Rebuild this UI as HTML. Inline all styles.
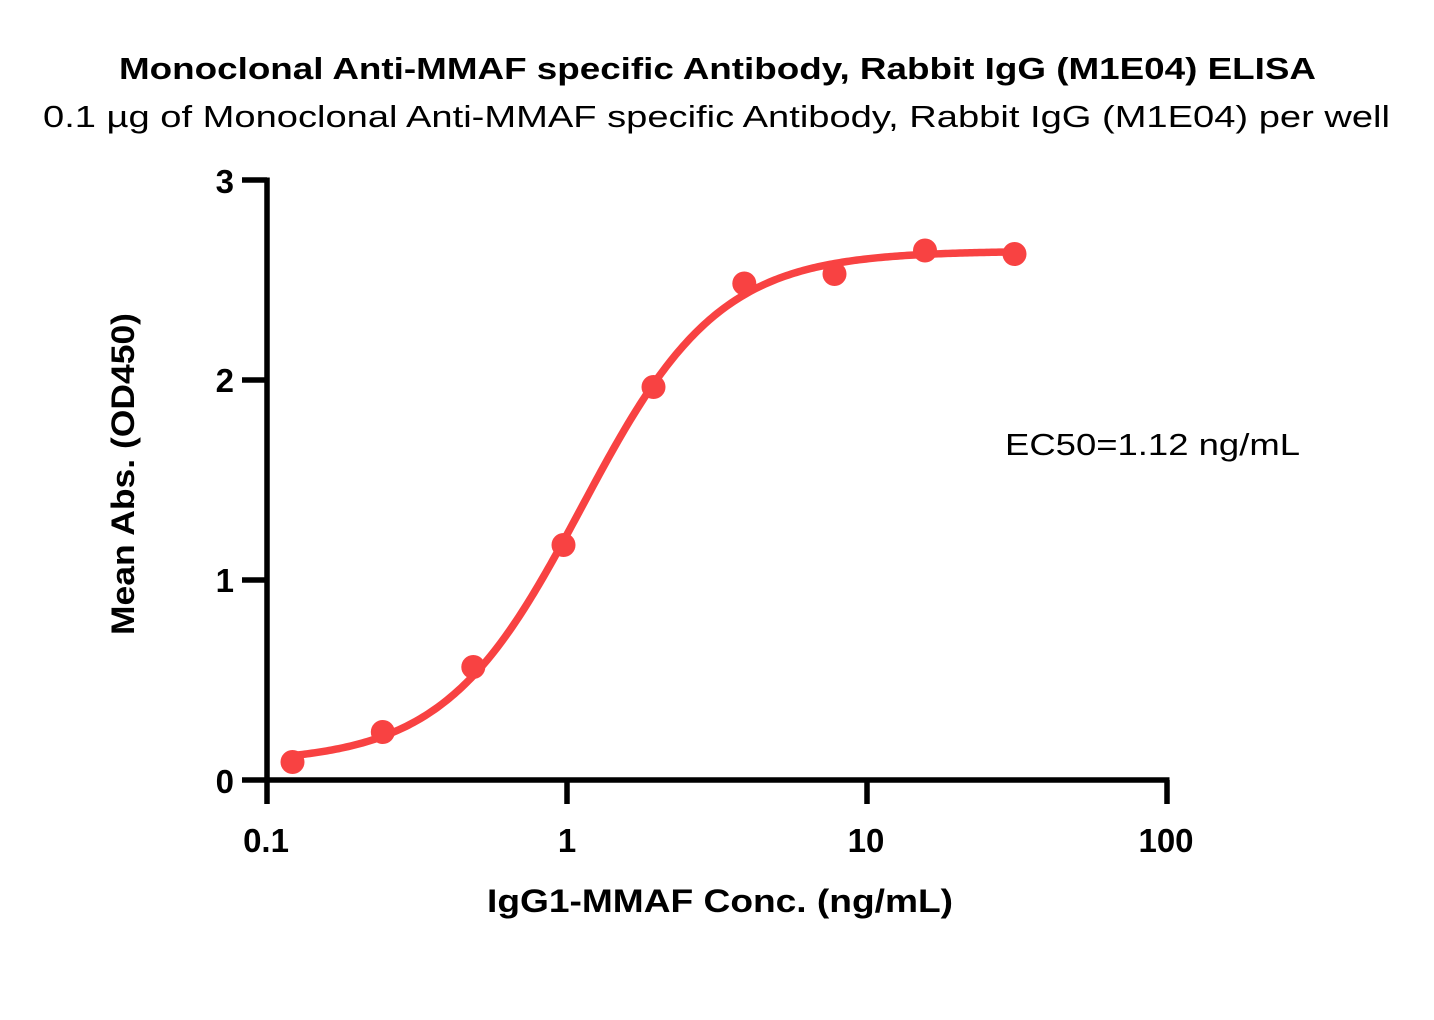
<!DOCTYPE html>
<html>
<head>
<meta charset="utf-8">
<style>
  html, body { margin: 0; padding: 0; background: #ffffff; }
  svg { display: block; }
  text { font-family: "Liberation Sans", "DejaVu Sans", sans-serif; fill: #000; }
</style>
</head>
<body>
<svg width="1434" height="1020" viewBox="0 0 1434 1020" xmlns="http://www.w3.org/2000/svg">
  <rect x="0" y="0" width="1434" height="1020" fill="#ffffff"/>

  <!-- Titles -->
  <text x="119" y="79" font-size="31" font-weight="bold" textLength="1197" lengthAdjust="spacingAndGlyphs">Monoclonal Anti-MMAF specific Antibody, Rabbit IgG (M1E04) ELISA</text>
  <text x="43" y="127" font-size="31" textLength="1347" lengthAdjust="spacingAndGlyphs">0.1 µg of Monoclonal Anti-MMAF specific Antibody, Rabbit IgG (M1E04) per well</text>

  <!-- Axes -->
  <g stroke="#000" stroke-width="5.5" fill="none" stroke-linecap="butt">
    <line x1="267" y1="177.5" x2="267" y2="782.5"/>
    <line x1="242" y1="780" x2="1169.5" y2="780"/>
    <line x1="242" y1="180" x2="267" y2="180"/>
    <line x1="242" y1="380" x2="267" y2="380"/>
    <line x1="242" y1="580" x2="267" y2="580"/>
    <line x1="267" y1="780" x2="267" y2="804"/>
    <line x1="567" y1="780" x2="567" y2="804"/>
    <line x1="867" y1="780" x2="867" y2="804"/>
    <line x1="1167" y1="780" x2="1167" y2="804"/>
  </g>

  <!-- Y tick labels -->
  <g font-size="33" font-weight="bold" text-anchor="end">
    <text x="234" y="193">3</text>
    <text x="234" y="392">2</text>
    <text x="234" y="592">1</text>
    <text x="234" y="793">0</text>
  </g>

  <!-- X tick labels -->
  <g font-size="33" font-weight="bold" text-anchor="middle">
    <text x="266" y="852">0.1</text>
    <text x="567" y="852">1</text>
    <text x="866" y="852">10</text>
    <text x="1166" y="852">100</text>
  </g>

  <!-- Axis titles -->
  <text x="487" y="912" font-size="32" font-weight="bold" textLength="466" lengthAdjust="spacingAndGlyphs">IgG1-MMAF Conc. (ng/mL)</text>
  <text transform="translate(134,635) rotate(-90)" x="0" y="0" font-size="32" font-weight="bold" textLength="322" lengthAdjust="spacingAndGlyphs">Mean Abs. (OD450)</text>

  <!-- EC50 annotation -->
  <text x="1005" y="455" font-size="31" textLength="295" lengthAdjust="spacingAndGlyphs">EC50=1.12 ng/mL</text>

  <!-- Fitted curve -->
  <polyline id="curve" fill="none" stroke="#f84242" stroke-width="7.5" stroke-linejoin="round" stroke-linecap="round"
    points="293.1,756.6 327,751.1 357,743.8 387,733.1 417,717.8 447,696.4 477,667.4 507,630.2 537,584.8 567,533.7 597,480.4 627,429.3 657,384.1 687,346.9 717,318.1 747,296.5 777,281.5 807,271 837,264.5 867,260.8 897,257.5 927,255.3 957,253.9 987,252.9 1015.5,252.3"/>

  <!-- Data points -->
  <g fill="#f84242">
    <circle cx="292.5" cy="762" r="12"/>
    <circle cx="382.8" cy="732" r="12"/>
    <circle cx="473.3" cy="667" r="12"/>
    <circle cx="563.5" cy="545" r="12"/>
    <circle cx="653.5" cy="387" r="12"/>
    <circle cx="744.3" cy="283.5" r="12"/>
    <circle cx="834.5" cy="274" r="12"/>
    <circle cx="925" cy="250.5" r="12"/>
    <circle cx="1014.5" cy="254" r="12"/>
  </g>
</svg>
<script>
(function(){
  var B=0.085, T=2.645, EC=1.12, h=1.9;
  var l0=Math.log10(0.122), l1=Math.log10(31.25);
  var pts=[];
  for(var i=0;i<=300;i++){
    var l=l0+(l1-l0)*i/300;
    var c=Math.pow(10,l);
    var v=B+(T-B)/(1+Math.pow(EC/c,h));
    var px=567+300*l, py=780-200*v;
    pts.push(px.toFixed(2)+","+py.toFixed(2));
  }
  var el=document.getElementById("curve");
  if(el) el.setAttribute("points",pts.join(" "));
})();
</script>
</body>
</html>
